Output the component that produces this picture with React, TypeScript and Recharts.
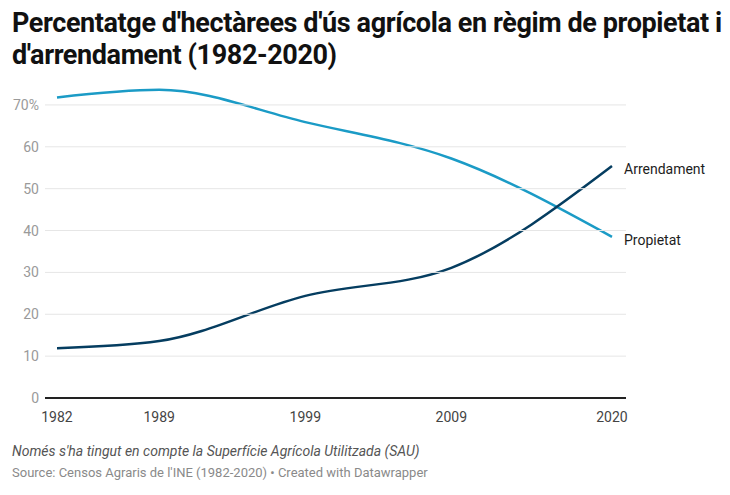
import { LineChart, Line, XAxis, YAxis } from "recharts"

// Years of the agrarian census
const years = [1982, 1989, 1999, 2009, 2020]
// % of hectares in ownership
const propietat = [71.8, 73.6, 65.9, 57.2, 38.5]
// % of hectares in lease
const arrendament = [11.9, 13.6, 24.4, 31.1, 55.4]

const yTicks = [0, 10, 20, 30, 40, 50, 60, 70]

const data = years.map((year, i) => ({
  year,
  propietat: propietat[i],
  arrendament: arrendament[i],
}))

const FONT = "Roboto, 'Noto Sans', sans-serif"

const YTick = (props: any) => {
  const { y, payload } = props
  const isZero = payload.value === 0
  return (
    <g>
      <line
        x1={45}
        x2={626}
        y1={y}
        y2={y}
        stroke={isZero ? "#222" : "#e6e6e6"}
        strokeWidth={isZero ? 2 : 1}
      />
      <text
        x={39}
        y={y}
        dy={5}
        textAnchor="end"
        fontSize={14}
        fontFamily={FONT}
        fill="#9a9a9a"
      >
        {payload.value === 70 ? "70%" : payload.value}
      </text>
    </g>
  )
}

const endLabel = (name: string, total: number) => (props: any) => {
  const { x, y, index } = props
  if (index !== total - 1) return null
  return (
    <text x={x + 12} y={y} dy={8} fontSize={14} fontFamily={FONT} fill="#1d1d1d">
      {name}
    </text>
  )
}

export default function App() {
  return (
    <div
      style={{
        position: "absolute",
        left: 0,
        top: 0,
        width: 730,
        height: 495,
        background: "#fff",
        fontFamily: FONT,
      }}
    >
      <div
        style={{
          position: "absolute",
          left: 12,
          top: 7,
          width: 718,
          fontSize: 27,
          lineHeight: "32px",
          fontWeight: 700,
          color: "#111",
          letterSpacing: -0.4,
        }}
      >
        Percentatge d'hectàrees d'ús agrícola en règim de propietat i d'arrendament (1982-2020)
      </div>

      <div style={{ position: "absolute", left: 0, top: 0 }}>
        <LineChart
          width={730}
          height={495}
          data={data}
          margin={{ top: 84, right: 118, bottom: 67, left: 56 }}
        >
          <XAxis
            dataKey="year"
            type="number"
            domain={[1982, 2020]}
            ticks={years}
            axisLine={false}
            tickLine={false}
            interval={0}
            tick={{ fontSize: 14, fill: "#444", fontFamily: FONT }}
            tickMargin={8}
            height={30}
          />
          <YAxis
            type="number"
            domain={[0, 75]}
            ticks={yTicks}
            width={1}
            interval={0}
            axisLine={false}
            tickLine={false}
            tick={(p: any) => <YTick {...p} />}
          />
          <Line
            dataKey="propietat"
            type="monotone"
            stroke="#1b9bc6"
            strokeWidth={2.5}
            dot={false}
            isAnimationActive={false}
            label={endLabel("Propietat", data.length)}
          />
          <Line
            dataKey="arrendament"
            type="monotone"
            stroke="#053d60"
            strokeWidth={2.5}
            dot={false}
            isAnimationActive={false}
            label={endLabel("Arrendament", data.length)}
          />
        </LineChart>
      </div>

      <div
        style={{
          position: "absolute",
          left: 12,
          top: 443,
          fontSize: 14,
          fontStyle: "italic",
          color: "#555",
        }}
      >
        Només s'ha tingut en compte la Superfície Agrícola Utilitzada (SAU)
      </div>
      <div
        style={{
          position: "absolute",
          left: 12,
          top: 465,
          fontSize: 13,
          color: "#8a8a8a",
        }}
      >
        Source: Censos Agraris de l'INE (1982-2020) • Created with Datawrapper
      </div>
    </div>
  )
}
